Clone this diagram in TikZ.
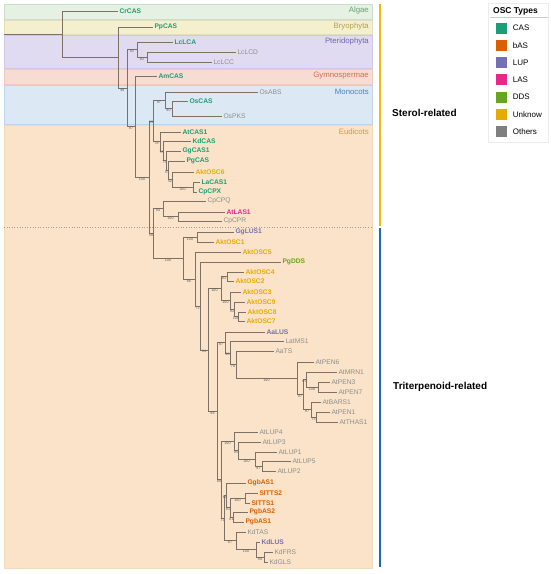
\documentclass[tikz,border=0pt]{standalone}
\usepackage{fontspec}
\setmainfont{Liberation Sans}
\usepackage{tikz}
\usetikzlibrary{positioning}

\definecolor{treecol}{HTML}{7D7064}
\definecolor{cascol}{HTML}{1B9E77}
\definecolor{bascol}{HTML}{D95F02}
\definecolor{lupcol}{HTML}{7570B3}
\definecolor{lascol}{HTML}{E7298A}
\definecolor{ddscol}{HTML}{66A61E}
\definecolor{unkcol}{HTML}{E6AB02}
\definecolor{othcol}{HTML}{7F7F7F}
\definecolor{leafgray}{HTML}{8E8E8E}
\definecolor{bandalg}{HTML}{E4F1E3}
\definecolor{labalg}{HTML}{6E9E70}
\definecolor{bandbry}{HTML}{F4F0CE}
\definecolor{labbry}{HTML}{AFA152}
\definecolor{bandpte}{HTML}{E0DBF0}
\definecolor{labpte}{HTML}{7262B5}
\definecolor{bandgym}{HTML}{F7DCD4}
\definecolor{labgym}{HTML}{D66B52}
\definecolor{bandmon}{HTML}{DCE8F4}
\definecolor{labmon}{HTML}{4A80C0}
\definecolor{bandeud}{HTML}{FAE3C8}
\definecolor{labeud}{HTML}{DB973A}
\definecolor{sterolbar}{HTML}{F1B70E}
\definecolor{tritbar}{HTML}{2368B3}

\begin{document}
\begin{tikzpicture}[x=1pt,y=-1pt,
        br/.style={treecol,line width=0.6pt},
        leaf/.style={anchor=west,inner xsep=1.3pt,inner ysep=0.5pt,font=\fontsize{6.7}{8}\selectfont},
        osc/.style={leaf,text=#1,font=\fontsize{6.7}{8}\selectfont\bfseries},
        cas/.style={osc=cascol},
        bas/.style={osc=bascol},
        lup/.style={osc=lupcol},
        las/.style={osc=lascol},
        dds/.style={osc=ddscol},
        unk/.style={osc=unkcol},
        oth/.style={leaf,text=leafgray},
        bs/.style={anchor=north,inner sep=0.3pt,text=black!65,font=\fontsize{3.6}{4}\selectfont},
        key/.style={minimum size=11pt,inner sep=0pt},
        keytext/.style={anchor=west,inner sep=0pt,font=\fontsize{8}{9}\selectfont},
        group/.style={anchor=west,inner sep=0pt,font=\fontsize{10}{12}\selectfont\bfseries}]
            \useasboundingbox (0,0) rectangle (550,574);

            \foreach \lab/\ya/\yb/\c in {Algae/4/19/alg, Bryophyta/20/34/bry, Pteridophyta/35/68/pte,
                    Gymnospermae/69/84/gym, Monocots/85/124/mon, Eudicots/125/568/eud}{
                \filldraw[line width=0.5pt,fill=band\c,draw=lab\c!35] (4,\ya) rectangle (372,\yb);
                \node[anchor=east,inner sep=0pt,text=lab\c,font=\fontsize{7.8}{9}\selectfont] at (369,\ya+6.5) {\lab};
            }
            \draw[treecol!70,dotted,line width=0.6pt] (4,227) -- (372,227);

            \coordinate (base) at (4,34.25);
            \coordinate (root) at (62,34.25);
            \coordinate (P) at (118,57.5);
            \coordinate (Q) at (127,88);
            \coordinate (Pt1) at (137,49.5);
            \coordinate (Pt2) at (147,57);
            \coordinate (R) at (135,126.5);
            \coordinate (S) at (149,177.1);
            \coordinate (E) at (153,120.8);
            \coordinate (M1) at (165,100.25);
            \coordinate (M2) at (172,108.5);
            \coordinate (C1) at (160,141.4);
            \coordinate (C2) at (163,150.8);
            \coordinate (C3) at (166,160.6);
            \coordinate (C4) at (168,170.25);
            \coordinate (C5) at (172,179.5);
            \coordinate (C6) at (193,187);
            \coordinate (F) at (153,233.4);
            \coordinate (LA1) at (163,208.75);
            \coordinate (LA2) at (178,216.5);
            \coordinate (T1) at (183,258);
            \coordinate (G1) at (197,237);
            \coordinate (T2) at (195,279);
            \coordinate (T3) at (200,305.9);
            \coordinate (T4) at (208,349.8);
            \coordinate (T5) at (221,288.6);
            \coordinate (A1) at (227,276.5);
            \coordinate (A4) at (230,300.6);
            \coordinate (A3) at (234,309.25);
            \coordinate (A2) at (238,316.5);
            \coordinate (T6) at (217,411);
            \coordinate (AL) at (225,342.4);
            \coordinate (LM) at (230,352.8);
            \coordinate (AT) at (236,364.6);
            \coordinate (PR) at (297,378.25);
            \coordinate (PX) at (303,394.5);
            \coordinate (PY) at (306,379.5);
            \coordinate (U1) at (318,387);
            \coordinate (PZ) at (311,409.5);
            \coordinate (PW) at (316,417);
            \coordinate (LB) at (221,479.6);
            \coordinate (LU) at (234,441.25);
            \coordinate (L3) at (238,450.5);
            \coordinate (L4) at (255,459);
            \coordinate (L5) at (262,466);
            \coordinate (B1) at (224,518);
            \coordinate (GB) at (226,495.25);
            \coordinate (SP) at (230,507.5);
            \coordinate (SL) at (245,498);
            \coordinate (PG) at (233,517);
            \coordinate (K1) at (236,540.75);
            \coordinate (K2) at (256,549.5);
            \coordinate (K3) at (264,557);

            \foreach \n/\x/\y/\s in {CrCAS/118/11/cas, PpCAS/153/27/cas, LcLCA/173/42/cas, LcLCD/236/52/oth,
                    LcLCC/212/62/oth, AmCAS/157/76/cas, OsABS/258/92/oth, OsCAS/188/101/cas, OsPKS/222/116/oth,
                    AtCAS1/181/132/cas, KdCAS/191/141/cas, GgCAS1/181/151/cas, PgCAS/185/161/cas,
                    AktOSC6/194/172/unk, LaCAS1/200/182/cas, CpCPX/197/192/cas, CpCPQ/206/201/oth,
                    AtLAS1/225/212/las, CpCPR/222/221/oth, GgLUS1/234/232/lup, AktOSC1/214/242/unk,
                    AktOSC5/241/252/unk, PgDDS/281/262/dds, AktOSC4/244/272/unk, AktOSC2/234/281/unk,
                    AktOSC3/241/292/unk, AktOSC9/245/302/unk, AktOSC8/246/312/unk, AktOSC7/245/321/unk,
                    AaLUS/265/332/lup, LatMS1/284/341/oth, AaTS/274/351/oth, AtPEN6/314/362/oth,
                    AtMRN1/337/372/oth, AtPEN3/330/382/oth, AtPEN7/337/392/oth, AtBARS1/321/402/oth,
                    AtPEN1/330/412/oth, AtTHAS1/338/422/oth, AtLUP4/258/432/oth, AtLUP3/261/442/oth,
                    AtLUP1/277/452/oth, AtLUP5/291/461/oth, AtLUP2/276/471/oth, GgbAS1/246/483/bas,
                    SlTTS2/258/493/bas, SlTTS1/250/503/bas, PgbAS2/248/512/bas, PgbAS1/244/522/bas,
                    KdTAS/246/532/oth, KdLUS/260/542/lup, KdFRS/273/552/oth, KdGLS/268/562/oth}{
                \node[\s] (\n) at (\x,\y) {\n};
            }

            \draw[br] (base) -- (root);
            \foreach \p/\c in {root/CrCAS, root/P, P/PpCAS, Pt1/LcLCA, Pt2/LcLCD, Pt2/LcLCC, R/AmCAS,
                    M1/OsABS, M2/OsCAS, M2/OsPKS, C1/AtCAS1, C2/KdCAS, C3/GgCAS1, C4/PgCAS, C5/AktOSC6,
                    C6/LaCAS1, C6/CpCPX, LA1/CpCPQ, LA2/AtLAS1, LA2/CpCPR, G1/GgLUS1, G1/AktOSC1,
                    T2/AktOSC5, T3/PgDDS, A1/AktOSC4, A1/AktOSC2, A4/AktOSC3, A3/AktOSC9, A2/AktOSC8,
                    A2/AktOSC7, AL/AaLUS, LM/LatMS1, AT/AaTS, PR/AtPEN6, PY/AtMRN1, U1/AtPEN3, U1/AtPEN7,
                    PZ/AtBARS1, PW/AtPEN1, PW/AtTHAS1, LU/AtLUP4, L3/AtLUP3, L4/AtLUP1, L5/AtLUP5,
                    L5/AtLUP2, GB/GgbAS1, SL/SlTTS2, SL/SlTTS1, PG/PgbAS2, PG/PgbAS1, K1/KdTAS,
                    K2/KdLUS, K3/KdFRS, K3/KdGLS}{
                \draw[br] (\p) |- (\c);
            }
            \foreach \p/\c/\b in {P/Q/98, Q/Pt1/92, Pt1/Pt2/82, Q/R/97, R/S/100, S/E/93, E/M1/97,
                    M1/M2/90, E/C1/78, C1/C2/73, C2/C3/73, C3/C4/53, C4/C5/42, C5/C6/100, S/F/58,
                    F/LA1/94, LA1/LA2/100, F/T1/100, T1/G1/100, T1/T2/86, T2/T3/72, T3/T4/94,
                    T4/T5/100, T5/A1/91, T5/A4/100, A4/A3/92, A3/A2/100, T4/T6/98, T6/AL/97,
                    AL/LM/98, LM/AT/70, AT/PR/100, PR/PX/97, PX/PY/69, PY/U1/100, PX/PZ/97,
                    PZ/PW/73, T6/LB/88, LB/LU/100, LU/L3/95, L3/L4/100, L4/L5/97, LB/B1/71,
                    B1/GB/68, GB/SP/81, SP/SL/100, SP/PG/61, B1/K1/87, K1/K2/100, K2/K3/94}{
                \draw[br] (\p) |- node[bs,pos=0.75] {\b} (\c);
            }

            \draw[sterolbar,line width=2pt] (380,4) -- (380,226);
            \draw[tritbar,line width=2pt] (380,228) -- (380,567);
            \node[group] (sterol) at (392,113) {Sterol-related};
            \node[group] (trit) at (393,387) {Triterpenoid-related};

            \draw[black!8,line width=0.5pt] (488,3) rectangle (548,142);
            \node[inner sep=0pt,font=\fontsize{8.5}{10}\selectfont\bfseries] (ttl) at (515.5,11) {OSC Types};
            \draw[black!20,line width=0.5pt] (490,17.5) -- (548,17.5);
            \foreach \t/\c [count=\i] in {CAS/cascol, bAS/bascol, LUP/lupcol, LAS/lascol, DDS/ddscol,
                    Unknow/unkcol, Others/othcol}{
                \node[key,fill=\c] (k\i) at (501,10.7+17.3*\i) {};
                \node[keytext,right=6pt of k\i] (t\i) {\t};
            }
        \end{tikzpicture}
\end{document}
